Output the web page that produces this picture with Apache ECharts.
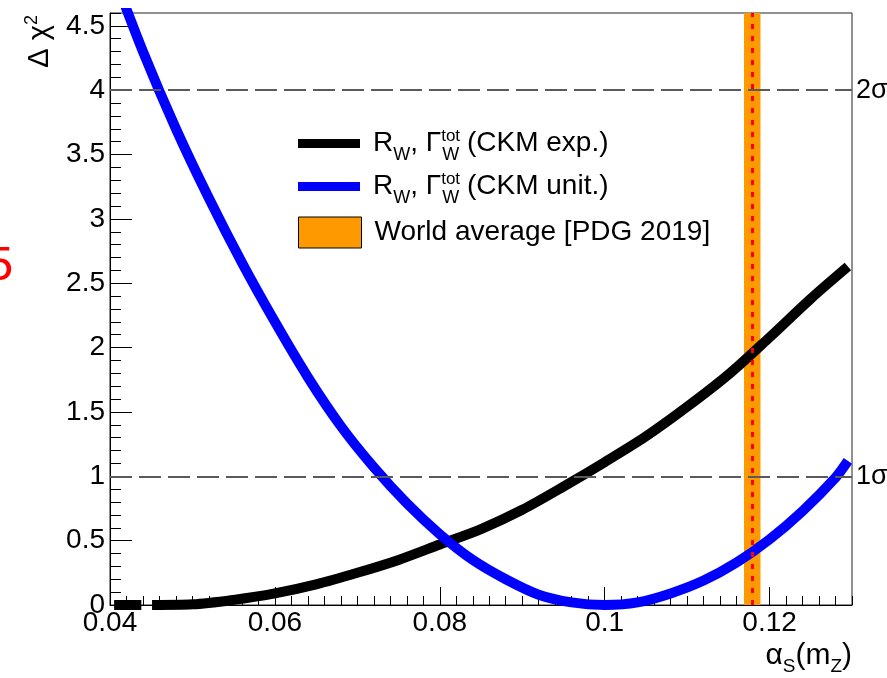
<!DOCTYPE html>
<html><head><meta charset="utf-8">
<script src="https://cdn.jsdelivr.net/npm/echarts@6/dist/echarts.min.js"></script>
<style>html,body{margin:0;padding:0;background:#fff}#c{width:887px;height:678px}</style>
</head><body><div id="c"></div>
<script>
// ---- data ----
const nameExp = 'RW, ΓWtot (CKM exp.)';
const nameUnit = 'RW, ΓWtot (CKM unit.)';
const nameWA = 'World average [PDG 2019]';

const xExp = [0.0405, 0.0438, 0.0444, 0.0451, 0.050, 0.055, 0.060, 0.065, 0.070, 0.075, 0.080, 0.085, 0.090, 0.095, 0.100, 0.105, 0.110, 0.115, 0.120, 0.125, 0.1295];
const yExp = [0, 0, null, 0, 0.005, 0.04, 0.09, 0.16, 0.25, 0.35, 0.47, 0.59, 0.74, 0.92, 1.11, 1.31, 1.54, 1.79, 2.08, 2.38, 2.63];

const xUnit = [0.040, 0.044, 0.048, 0.052, 0.056, 0.060, 0.064, 0.068, 0.072, 0.076, 0.080, 0.084, 0.088, 0.092, 0.096, 0.100, 0.104, 0.108, 0.112, 0.116, 0.120, 0.124, 0.128, 0.1295];
const yUnit = [4.97, 4.30, 3.70, 3.16, 2.66, 2.20, 1.77, 1.39, 1.07, 0.79, 0.55, 0.35, 0.20, 0.08, 0.02, 0.00, 0.02, 0.09, 0.19, 0.33, 0.51, 0.73, 0.99, 1.12];

const waCentral = 0.1179;
const waLow = 0.1169;
const waHigh = 0.1189;

const sigmaLevels = [4, 1];
const sigmaLabels = ['2σ', '1σ'];

const xRange = [0.04, 0.13];
const yRange = [0, 4.6];
// ---------------------------------------

const F = '"Liberation Sans", Arial, Helvetica, sans-serif';
const chart = echarts.init(document.getElementById('c'), null, {renderer: 'canvas'});

const richLegend = {
  gap: {width: 8, fontSize: 10},
  m: {fontSize: 28, fontFamily: F, color: '#000', lineHeight: 44},
  sub: {fontSize: 18, fontFamily: F, color: '#000', lineHeight: 18, padding: [23, 0, 0, 0]},
  sup: {fontSize: 17, fontFamily: F, color: '#000', lineHeight: 17, padding: [0, 0, 14, 0], width: 1}
};
const legendText = {};
legendText[nameExp] = '{gap| }{m|R}{sub|W}{m|, Γ}{sup|tot}{sub|W}{m| (CKM exp.)}';
legendText[nameUnit] = '{gap| }{m|R}{sub|W}{m|, Γ}{sup|tot}{sub|W}{m| (CKM unit.)}';
legendText[nameWA] = '{gap| }{m|World average [PDG 2019]}';

const sigmaLines = sigmaLevels.map((v, i) => ({
  yAxis: v,
  lineStyle: {color: '#5a5a5a', width: 2, type: [22, 7]},
  label: {show: true, position: 'end', formatter: sigmaLabels[i], fontSize: 27, fontFamily: F, color: '#000', distance: 4}
}));

const axisCommon = {
  axisLine: {show: true, lineStyle: {color: '#000', width: 1}},
  splitLine: {show: false}
};

const option = {
  animation: false,
  backgroundColor: '#fff',
  grid: {left: 110, right: 35, top: 13, bottom: 73, show: true, borderColor: '#222', borderWidth: 1, backgroundColor: 'transparent'},
  xAxis: [
    Object.assign({}, axisCommon, {
      type: 'value', min: xRange[0], max: xRange[1], interval: 0.02, position: 'bottom',
      axisTick: {show: true, inside: true, length: 18, lineStyle: {color: '#000', width: 1}},
      axisLabel: {fontSize: 28, fontFamily: F, color: '#000', margin: 4, showMaxLabel: false}
    }),
    {
      type: 'value', min: xRange[0], max: xRange[1], interval: 0.002, position: 'bottom',
      axisLine: {show: false}, splitLine: {show: false},
      axisTick: {show: true, inside: true, length: 9, lineStyle: {color: '#000', width: 1}},
      axisLabel: {show: false}
    }
  ],
  yAxis: [
    Object.assign({}, axisCommon, {
      type: 'value', min: yRange[0], max: yRange[1], interval: 0.5, position: 'left',
      axisTick: {show: true, inside: true, length: 22, lineStyle: {color: '#000', width: 1}},
      axisLabel: {fontSize: 28, fontFamily: F, color: '#000', margin: 5, showMaxLabel: false}
    }),
    {
      type: 'value', min: yRange[0], max: yRange[1], interval: 0.1, position: 'left',
      axisLine: {show: false}, splitLine: {show: false},
      axisTick: {show: true, inside: true, length: 11, lineStyle: {color: '#000', width: 1}},
      axisLabel: {show: false}
    }
  ],
  legend: [
    {
      data: [nameExp, nameUnit], orient: 'vertical', left: 298, top: 123, padding: 0, itemGap: 2,
      icon: 'rect', itemWidth: 62, itemHeight: 9, selectedMode: false,
      formatter: n => legendText[n],
      textStyle: {rich: richLegend}
    },
    {
      data: [nameWA], orient: 'vertical', left: 298, top: 216.5, padding: 0,
      icon: 'rect', itemWidth: 63, itemHeight: 31, selectedMode: false,
      itemStyle: {borderColor: '#000', borderWidth: 1},
      formatter: n => legendText[n],
      textStyle: {rich: richLegend}
    }
  ],
  series: [
    {
      name: nameWA, type: 'line', data: [], color: '#ff9900', z: 1,
      itemStyle: {color: '#ff9900'},
      markArea: {silent: true, itemStyle: {color: '#ff9900', opacity: 1},
        data: [[{xAxis: waLow}, {xAxis: waHigh}]]},
      markLine: {silent: true, symbol: ['none', 'none'], precision: 5,
        data: [
          {xAxis: waCentral, lineStyle: {color: '#ff0000', width: 3, type: [5, 7]}, label: {show: false}}
        ].concat(sigmaLines)}
    },
    {
      name: nameExp, type: 'line', color: '#000', z: 3, clip: false,
      data: xExp.map((x, i) => [x, yExp[i]]),
      showSymbol: false, symbol: 'none', connectNulls: false,
      smooth: 0.3,
      lineStyle: {color: '#000', width: 10},
      itemStyle: {color: '#000'}
    },
    {
      name: nameUnit, type: 'line', color: '#0000ff', z: 3, clip: true,
      data: xUnit.map((x, i) => [x, yUnit[i]]),
      showSymbol: false, symbol: 'none',
      smooth: 0.3,
      lineStyle: {color: '#0000ff', width: 10},
      itemStyle: {color: '#0000ff'}
    }
  ],
  graphic: [
    {
      type: 'text', x: 40, y: 15, rotation: Math.PI / 2,
      style: {
        text: '{m|Δ χ}{sup|2}', align: 'right', verticalAlign: 'middle',
        rich: {
          m: {fontSize: 29, fontFamily: F, fill: '#000', lineHeight: 40},
          sup: {fontSize: 18, fontFamily: F, fill: '#000', lineHeight: 18, padding: [0, 0, 16, 0]}
        }
      }
    },
    {
      type: 'text', x: 852, y: 656,
      style: {
        text: '{m|α}{sub|S}{m|(m}{sub|Z}{m|)}', align: 'right', verticalAlign: 'middle',
        rich: {
          m: {fontSize: 30, fontFamily: F, fill: '#000', lineHeight: 44},
          sub: {fontSize: 19, fontFamily: F, fill: '#000', lineHeight: 19, padding: [22, 0, 0, 0]}
        }
      }
    },
    {
      type: 'text', x: -14, y: 266,
      style: {text: '5', font: '49px ' + F, fill: '#ff0000', verticalAlign: 'middle'}
    }
  ]
};
chart.setOption(option);
</script>
</body></html>
